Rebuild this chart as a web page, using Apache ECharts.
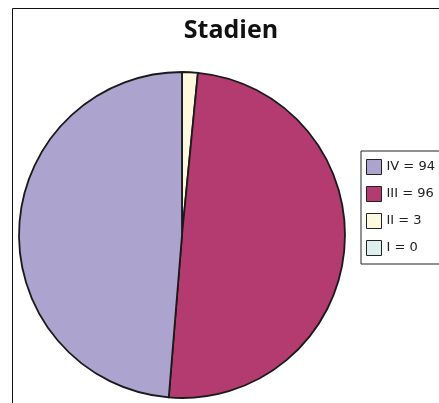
<!DOCTYPE html>
<html>
<head>
<meta charset="utf-8">
<script src="https://cdn.jsdelivr.net/npm/echarts@6/dist/echarts.min.js"></script>
<style>
html,body{margin:0;padding:0;background:#fff;}
#c{width:439px;height:403px;}
</style>
</head>
<body>
<div id="c"></div>
<script>
const titleText = "Stadien";
const categories = ["I", "II", "III", "IV"];
const values = [0, 3, 96, 94];
const colors = ["#dcefef", "#fdf9df", "#b43b6f", "#ada3cf"];
const legendOrder = ["IV", "III", "II", "I"];

const labelOf = {};
categories.forEach((c, i) => { labelOf[c] = c + " = " + values[i]; });

const chart = echarts.init(document.getElementById('c'), null, {renderer: 'canvas'});
chart.setOption({
  animation: false,
  backgroundColor: '#fff',
  title: {
    text: titleText,
    left: 226, top: 13, textAlign: 'center',
    textStyle: {fontFamily: 'Open Sans', fontWeight: 'bold', fontSize: 25, color: '#111'}
  },
  graphic: [{
    type: 'rect', z: -1,
    shape: {x: 12.5, y: 8.5, width: 600, height: 600},
    style: {fill: 'none', stroke: '#111', lineWidth: 1}
  }],
  legend: {
    orient: 'vertical',
    left: 361, top: 151,
    data: legendOrder,
    itemWidth: 15, itemHeight: 15, itemGap: 11,
    padding: [8, 80, 8, 5],
    backgroundColor: '#fff',
    borderColor: '#222', borderWidth: 1, borderRadius: 0,
    icon: 'rect',
    itemStyle: {borderColor: '#222', borderWidth: 1},
    selectedMode: false,
    formatter: n => labelOf[n],
    textStyle: {fontFamily: 'DejaVu Sans', fontSize: 13, color: '#222', padding: [0, 0, 0, 0]}
  },
  series: [{
    type: 'pie',
    center: [182, 235],
    radius: [0, 163],
    startAngle: 90,
    clockwise: true,
    silent: true,
    label: {show: false},
    labelLine: {show: false},
    itemStyle: {borderColor: '#1a1a1a', borderWidth: 1.8},
    data: categories.map((c, i) => ({name: c, value: values[i], itemStyle: {color: colors[i]}}))
  }]
});
</script>
</body>
</html>
